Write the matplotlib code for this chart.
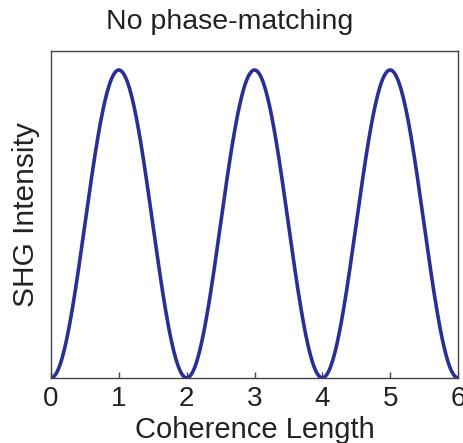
import numpy as np
import matplotlib.pyplot as plt

plt.rcParams['font.family'] = ['Liberation Sans', 'DejaVu Sans']

# SHG intensity without phase matching: oscillates with period of 2 coherence lengths
coherence_lengths = [0, 1, 2, 3, 4, 5, 6]
period = 2.0
peak_intensity = 1.0

x = np.linspace(coherence_lengths[0], coherence_lengths[-1], 600)
intensity = peak_intensity * np.sin(np.pi * x / period) ** 2

fig = plt.figure(figsize=(4.64, 4.43), dpi=100)
ax = fig.add_axes([0.110, 0.147, 0.877, 0.738])

ax.plot(x, intensity, color='#2a2f95', lw=2.6)

ax.set_xlim(0, 6)
ax.set_ylim(0, 1.062)
ax.set_xticks(coherence_lengths)
ax.set_yticks([])
ax.tick_params(axis='x', direction='in', length=4, width=1, color='#444444',
               labelsize=20, pad=6, labelcolor='#222222')
for s in ax.spines.values():
    s.set_color('#444444')
    s.set_linewidth(1.0)

ax.set_xlabel('Coherence Length', fontsize=21, color='#222222', labelpad=3)
ax.set_ylabel('SHG Intensity', fontsize=21.5, color='#222222', labelpad=8)
fig.text(0.494, 0.95, 'No phase-matching', fontsize=20.5, color='#222222',
         ha='center', va='center')

fig.savefig('out.png', dpi=100)
